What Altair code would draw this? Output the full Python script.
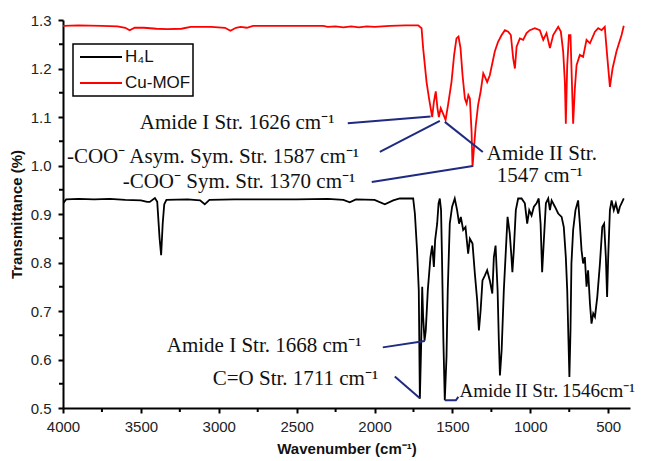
import altair as alt
import pandas as pd

# ---------------- data ----------------
series_names = ["H\u2084L", "Cu-MOF"]
series_colors = ["#000000", "#ff0000"]

cu_wn = [4000, 3900, 3750, 3650, 3600, 3572, 3540, 3480, 3400, 3330, 3240, 3180, 3050, 2960, 2925,
         2890, 2860, 2820, 2780, 2500, 2330, 2300, 2250, 2200, 2150, 2100, 2050, 2000, 1900, 1800,
         1720, 1698, 1688, 1666, 1650, 1630, 1619, 1607, 1596, 1587, 1575, 1560, 1544, 1528, 1506,
         1489, 1474, 1461, 1448, 1435, 1420, 1409, 1398, 1388, 1377, 1371, 1362, 1350, 1335, 1319,
         1302, 1292, 1277, 1260, 1228, 1207, 1184, 1163, 1142, 1125, 1110, 1099, 1088, 1067, 1046,
         1024, 1003, 971, 939, 917, 896, 874, 853, 821, 804, 789, 778, 772, 763, 752,
         742, 733, 725, 714, 703, 682, 661, 639, 617, 585, 564, 542, 522, 507, 489,
         472, 447, 414, 400]
cu_t = [1.288, 1.289, 1.288, 1.287, 1.284, 1.279, 1.284, 1.284, 1.282, 1.281, 1.282, 1.286, 1.286, 1.284, 1.278,
        1.284, 1.286, 1.284, 1.288, 1.288, 1.288, 1.286, 1.287, 1.285, 1.287, 1.285, 1.287, 1.286, 1.288, 1.289,
        1.289, 1.283, 1.242, 1.172, 1.138, 1.100, 1.131, 1.153, 1.118, 1.100, 1.118, 1.107, 1.094, 1.125, 1.172,
        1.228, 1.262, 1.266, 1.242, 1.186, 1.138, 1.128, 1.145, 1.138, 1.069, 0.997, 1.035, 1.083, 1.125, 1.152,
        1.190, 1.183, 1.172, 1.186, 1.235, 1.255, 1.269, 1.279, 1.276, 1.269, 1.221, 1.200, 1.245, 1.262, 1.259,
        1.273, 1.279, 1.283, 1.279, 1.259, 1.273, 1.242, 1.269, 1.286, 1.276, 1.235, 1.172, 1.086, 1.207, 1.269,
        1.269, 1.172, 1.086, 1.159, 1.207, 1.228, 1.224, 1.259, 1.252, 1.276, 1.283, 1.279, 1.286, 1.228, 1.162,
        1.200, 1.235, 1.269, 1.288]

h4l_wn = [4000, 3980, 3900, 3800, 3700, 3600, 3500, 3460, 3443, 3410, 3395, 3380, 3370, 3360, 3350,
          3336, 3200, 3120, 3090, 3060, 2900, 2700, 2500, 2300, 2200, 2159, 2120, 2000, 1934, 1880,
          1838, 1763, 1752, 1741, 1727, 1716, 1709, 1701, 1694, 1688, 1679, 1671, 1658, 1641, 1630,
          1619, 1611, 1598, 1589, 1581, 1573, 1567, 1558, 1549, 1538, 1530, 1517, 1502, 1485, 1470,
          1457, 1446, 1431, 1416, 1399, 1388, 1371, 1356, 1341, 1330, 1319, 1307, 1292, 1277, 1260,
          1244, 1234, 1223, 1210, 1202, 1195, 1184, 1170, 1157, 1146, 1132, 1121, 1115, 1106, 1093,
          1078, 1056, 1035, 1020, 1007, 992, 977, 960, 946, 934, 924, 913, 900, 885, 874,
          863, 842, 821, 799, 785, 772, 763, 755, 749, 742, 736, 725, 710, 693, 682,
          671, 661, 650, 639, 629, 617, 607, 596, 585, 570, 553, 538, 526, 515, 507,
          500, 489, 478, 464, 451, 436, 425, 410, 400]
h4l_t = [0.922, 0.930, 0.931, 0.930, 0.931, 0.929, 0.928, 0.925, 0.925, 0.933, 0.925, 0.850, 0.815, 0.880, 0.920,
         0.929, 0.930, 0.928, 0.920, 0.929, 0.930, 0.930, 0.930, 0.931, 0.929, 0.924, 0.930, 0.929, 0.920, 0.928,
         0.932, 0.932, 0.932, 0.901, 0.825, 0.743, 0.519, 0.626, 0.750, 0.688, 0.639, 0.660, 0.743, 0.811, 0.835,
         0.791, 0.846, 0.880, 0.922, 0.932, 0.908, 0.811, 0.639, 0.516, 0.605, 0.743, 0.880, 0.915, 0.932, 0.908,
         0.880, 0.894, 0.867, 0.873, 0.818, 0.849, 0.839, 0.777, 0.722, 0.660, 0.701, 0.763, 0.773, 0.784, 0.763,
         0.736, 0.811, 0.835, 0.743, 0.639, 0.567, 0.619, 0.743, 0.825, 0.894, 0.860, 0.811, 0.780, 0.825, 0.908,
         0.932, 0.932, 0.922, 0.880, 0.908, 0.897, 0.915, 0.922, 0.932, 0.880, 0.780, 0.846, 0.922, 0.932, 0.908,
         0.928, 0.915, 0.901, 0.894, 0.873, 0.811, 0.743, 0.639, 0.564, 0.660, 0.798, 0.867, 0.908, 0.928, 0.880,
         0.825, 0.798, 0.811, 0.750, 0.784, 0.715, 0.674, 0.695, 0.688, 0.729, 0.798, 0.873, 0.880, 0.811, 0.729,
         0.811, 0.908, 0.928, 0.908, 0.922, 0.901, 0.915, 0.925, 0.932]

x_ticks = [4000, 3500, 3000, 2500, 2000, 1500, 1000, 500]
x_minor = [3750, 3250, 2750, 2250, 1750, 1250, 750]
y_ticks = [0.5, 0.6, 0.7, 0.8, 0.9, 1.0, 1.1, 1.2, 1.3]
y_minor = [0.55, 0.65, 0.75, 0.85, 0.95, 1.05, 1.15, 1.25]

# annotation labels (text, wavenumber, transmittance, align, font size)
ann_text = ["Amide I Str. 1626 cm\u207b\u00b9",
            "-COO\u207b Asym. Sym. Str. 1587 cm\u207b\u00b9",
            "-COO\u207b Sym. Str. 1370 cm\u207b\u00b9",
            "Amide II Str.",
            "1547 cm\u207b\u00b9",
            "Amide I Str. 1668 cm\u207b\u00b9",
            "C=O Str. 1711 cm\u207b\u00b9",
            "Amide\u2009II Str.\u20091546cm\u207b\u00b9"]
ann_x = [3507, 3975, 3617, 926, 939, 3334, 3039, 1455]
ann_y = [1.087, 1.017, 0.966, 1.024, 0.978, 0.627, 0.559, 0.536]
ann_align = ["left", "left", "left", "center", "center", "left", "left", "left"]
ann_size = [21, 21, 21, 21, 21, 21, 21, 19]

# annotation leader lines (group id, wavenumber, transmittance)
lead_id = [1, 1, 2, 2, 3, 3, 4, 4, 5, 5, 6, 6, 7, 7, 7]
lead_x = [2172, 1640, 1966, 1581, 2018, 1369, 1549, 1305, 1947, 1677, 1870, 1709, 1549, 1478, 1462]
lead_y = [1.087, 1.101, 1.028, 1.092, 0.966, 0.999, 1.090, 1.028, 0.625, 0.638, 0.565, 0.520, 0.516, 0.516, 0.523]

# ---------------- tables ----------------
rows = []
for name, wn, tt in [(series_names[0], h4l_wn, h4l_t), (series_names[1], cu_wn, cu_t)]:
    for i, (a, b) in enumerate(zip(wn, tt)):
        rows.append({"series": name, "wn": a, "T": b, "idx": i})
spec_df = pd.DataFrame(rows)

ann_df = pd.DataFrame({"text": ann_text, "wn": ann_x, "T": ann_y, "align": ann_align, "size": ann_size})
lead_df = pd.DataFrame({"g": lead_id, "wn": lead_x, "T": lead_y, "idx": list(range(len(lead_id)))})

W, H = 567, 388
xscale = alt.Scale(domain=[4000, 360], nice=False, zero=False)
yscale = alt.Scale(domain=[0.5, 1.3], nice=False, zero=False)

xaxis = alt.Axis(values=x_ticks, format="d", title="Wavenumber (cm\u207b\u00b9)",
                 titleFont="Liberation Sans", titleFontSize=15, titleFontWeight="bold",
                 titlePadding=7, labelPadding=6, labelFlush=False)
yaxis = alt.Axis(values=y_ticks, format=".1f", title="Transmittance (%)",
                 titleFont="Liberation Sans", titleFontSize=15, titleFontWeight="bold",
                 titlePadding=6, labelPadding=7, labelFlush=False)

lines = alt.Chart(spec_df).mark_line(strokeWidth=1.8, clip=True).encode(
    x=alt.X("wn:Q", scale=xscale, axis=xaxis),
    y=alt.Y("T:Q", scale=yscale, axis=yaxis),
    color=alt.Color("series:N", scale=alt.Scale(domain=series_names, range=series_colors), legend=None),
    order=alt.Order("idx:Q"),
)

leaders = alt.Chart(lead_df).mark_line(color="#1f2a80", strokeWidth=2).encode(
    x=alt.X("wn:Q", scale=xscale),
    y=alt.Y("T:Q", scale=yscale),
    detail="g:N",
    order=alt.Order("idx:Q"),
)

texts = []
for al in ["left", "center"]:
    texts.append(
        alt.Chart(ann_df[ann_df["align"] == al]).mark_text(
            align=al, baseline="middle", font="Liberation Serif", color="#111111"
        ).encode(
            x=alt.X("wn:Q", scale=xscale),
            y=alt.Y("T:Q", scale=yscale),
            text="text:N",
            size=alt.Size("size:Q", scale=None, legend=None),
        )
    )

xminor_df = pd.DataFrame({"wn": x_minor})
yminor_df = pd.DataFrame({"T": y_minor})
xminor = alt.Chart(xminor_df).mark_rule(color="black", strokeWidth=2).encode(
    x=alt.X("wn:Q", scale=xscale), y=alt.value(H), y2=alt.value(H + 4))
yminor = alt.Chart(yminor_df).mark_rule(color="black", strokeWidth=2).encode(
    y=alt.Y("T:Q", scale=yscale), x=alt.value(0), x2=alt.value(-4))

# manual legend (box + stroke samples + labels)
leg_box = alt.Chart(pd.DataFrame({"a": [0]})).mark_rect(fill="white", stroke="black", strokeWidth=1.5).encode(
    x=alt.value(10), x2=alt.value(130), y=alt.value(24), y2=alt.value(76))
leg_items = []
for k, (name, col) in enumerate(zip(series_names, series_colors)):
    yy = 37 + 26 * k
    leg_items.append(alt.Chart(pd.DataFrame({"a": [0]})).mark_rule(color=col, strokeWidth=2).encode(
        x=alt.value(17), x2=alt.value(59), y=alt.value(yy)))
    leg_items.append(alt.Chart(pd.DataFrame({"label": [name]})).mark_text(
        align="left", baseline="middle", font="Liberation Sans", fontSize=17, color="#111111").encode(
        x=alt.value(62), y=alt.value(yy), text="label:N"))

chart = alt.layer(lines, leaders, *texts, xminor, yminor, leg_box, *leg_items).properties(
    width=W, height=H,
    autosize=alt.AutoSizeParams(type="none"),
    padding={"left": 55, "top": 12, "right": 15, "bottom": 52},
).configure_view(stroke=None).configure_axis(
    domainColor="black", domainWidth=2, tickColor="black", tickWidth=2, tickSize=5,
    labelFont="Liberation Sans", labelFontSize=15, labelColor="#222222", grid=False,
    titleColor="#111111",
)

chart.save("out.html", embed_options={"renderer": "svg", "actions": False})
